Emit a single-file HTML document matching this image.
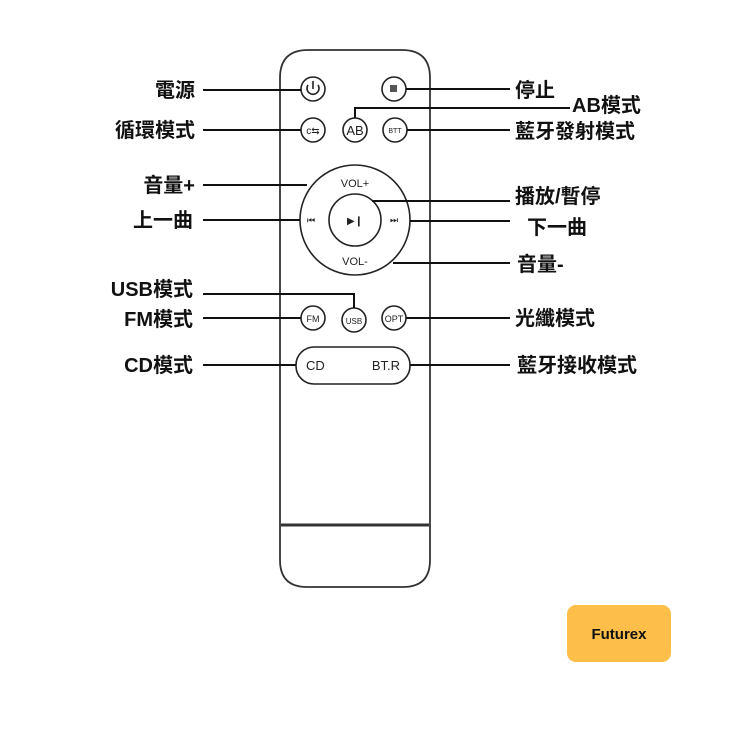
<!DOCTYPE html>
<html><head><meta charset="utf-8"><style>
body{margin:0;background:#fff;}
.t{font-family:"Liberation Sans","Noto Sans CJK TC",sans-serif;font-size:20px;font-weight:bold;fill:#111;}
.b{font-family:"Liberation Sans",sans-serif;fill:#222;}
</style></head><body>
<svg width="750" height="742" viewBox="0 0 750 742" xmlns="http://www.w3.org/2000/svg">
<rect width="750" height="742" fill="#fff"/>
<path d="M280,560 L280,78 Q280,50 308,50 L402,50 Q430,50 430,78 L430,560 Q430,587 403,587 L307,587 Q280,587 280,560 Z" fill="none" stroke="#333" stroke-width="1.8"/>
<line x1="281" y1="525" x2="429" y2="525" stroke="#333" stroke-width="3"/>
<g fill="none" stroke="#222" stroke-width="1.6">
<circle cx="313" cy="89" r="12"/>
<circle cx="394" cy="89" r="12"/>
<circle cx="313" cy="130" r="12"/>
<circle cx="355" cy="130" r="12"/>
<circle cx="395" cy="130" r="12"/>
<circle cx="355" cy="220" r="55"/>
<circle cx="355" cy="220" r="26"/>
<circle cx="313" cy="318" r="12"/>
<circle cx="354" cy="320" r="12"/>
<circle cx="394" cy="318" r="12"/>
<rect x="296" y="347" width="114" height="37" rx="18"/>
<path d="M308,85 A6,6 0 1 0 318,85"/><line x1="313" y1="81" x2="313" y2="89"/>
</g>
<rect x="390" y="85" width="7" height="7" fill="#555"/>
<text x="313" y="134" font-size="10" text-anchor="middle" class="b">c⇆</text>
<text x="355" y="135" font-size="13" text-anchor="middle" class="b">AB</text>
<text x="395" y="133" font-size="7" text-anchor="middle" class="b">BTT</text>
<text x="355" y="187" font-size="11" text-anchor="middle" class="b">VOL+</text>
<text x="355" y="265" font-size="11" text-anchor="middle" class="b">VOL-</text>
<text x="355" y="224" font-size="10" text-anchor="middle" class="b">▶❙</text>
<text x="311" y="223" font-size="9" text-anchor="middle" class="b">⏮</text>
<text x="394" y="223" font-size="9" text-anchor="middle" class="b">⏭</text>
<text x="313" y="322" font-size="9" text-anchor="middle" class="b">FM</text>
<text x="354" y="324" font-size="8" text-anchor="middle" class="b">USB</text>
<text x="394" y="322" font-size="9" text-anchor="middle" class="b">OPT</text>
<text x="306" y="370" font-size="13" class="b">CD</text>
<text x="400" y="370" font-size="13" text-anchor="end" class="b">BT.R</text>
<g stroke="#111" stroke-width="2" fill="none">
<line x1="203" y1="90" x2="301" y2="90"/>
<line x1="406" y1="89" x2="510" y2="89"/>
<polyline points="355,118 355,108 570,108"/>
<line x1="203" y1="130" x2="301" y2="130"/>
<line x1="407" y1="130" x2="510" y2="130"/>
<line x1="203" y1="185" x2="307" y2="185"/>
<line x1="203" y1="220" x2="300" y2="220"/>
<line x1="372" y1="201" x2="510" y2="201"/>
<line x1="410" y1="221" x2="510" y2="221"/>
<line x1="393" y1="263" x2="510" y2="263"/>
<polyline points="203,294 354,294 354,308"/>
<line x1="203" y1="318" x2="301" y2="318"/>
<line x1="406" y1="318" x2="510" y2="318"/>
<line x1="203" y1="365" x2="296" y2="365"/>
<line x1="410" y1="365" x2="510" y2="365"/>
</g>
<g class="t" text-anchor="end">
<text x="195" y="97">電源</text>
<text x="195" y="137">循環模式</text>
<text x="195" y="192">音量+</text>
<text x="193" y="227">上一曲</text>
<text x="193" y="296">USB模式</text>
<text x="193" y="326">FM模式</text>
<text x="193" y="372">CD模式</text>
</g>
<g class="t">
<text x="515" y="97">停止</text>
<text x="572" y="112">AB模式</text>
<text x="515" y="138">藍牙發射模式</text>
<text x="515" y="203">播放/暫停</text>
<text x="527" y="234">下一曲</text>
<text x="517" y="271">音量-</text>
<text x="515" y="325">光纖模式</text>
<text x="517" y="372">藍牙接收模式</text>
</g>
<rect x="567" y="605" width="104" height="57" rx="9" fill="#FDBE4A"/>
<text x="619" y="639" text-anchor="middle" font-family="'Liberation Sans',sans-serif" font-size="15" font-weight="bold" fill="#111">Futurex</text>
</svg>
</body></html>
